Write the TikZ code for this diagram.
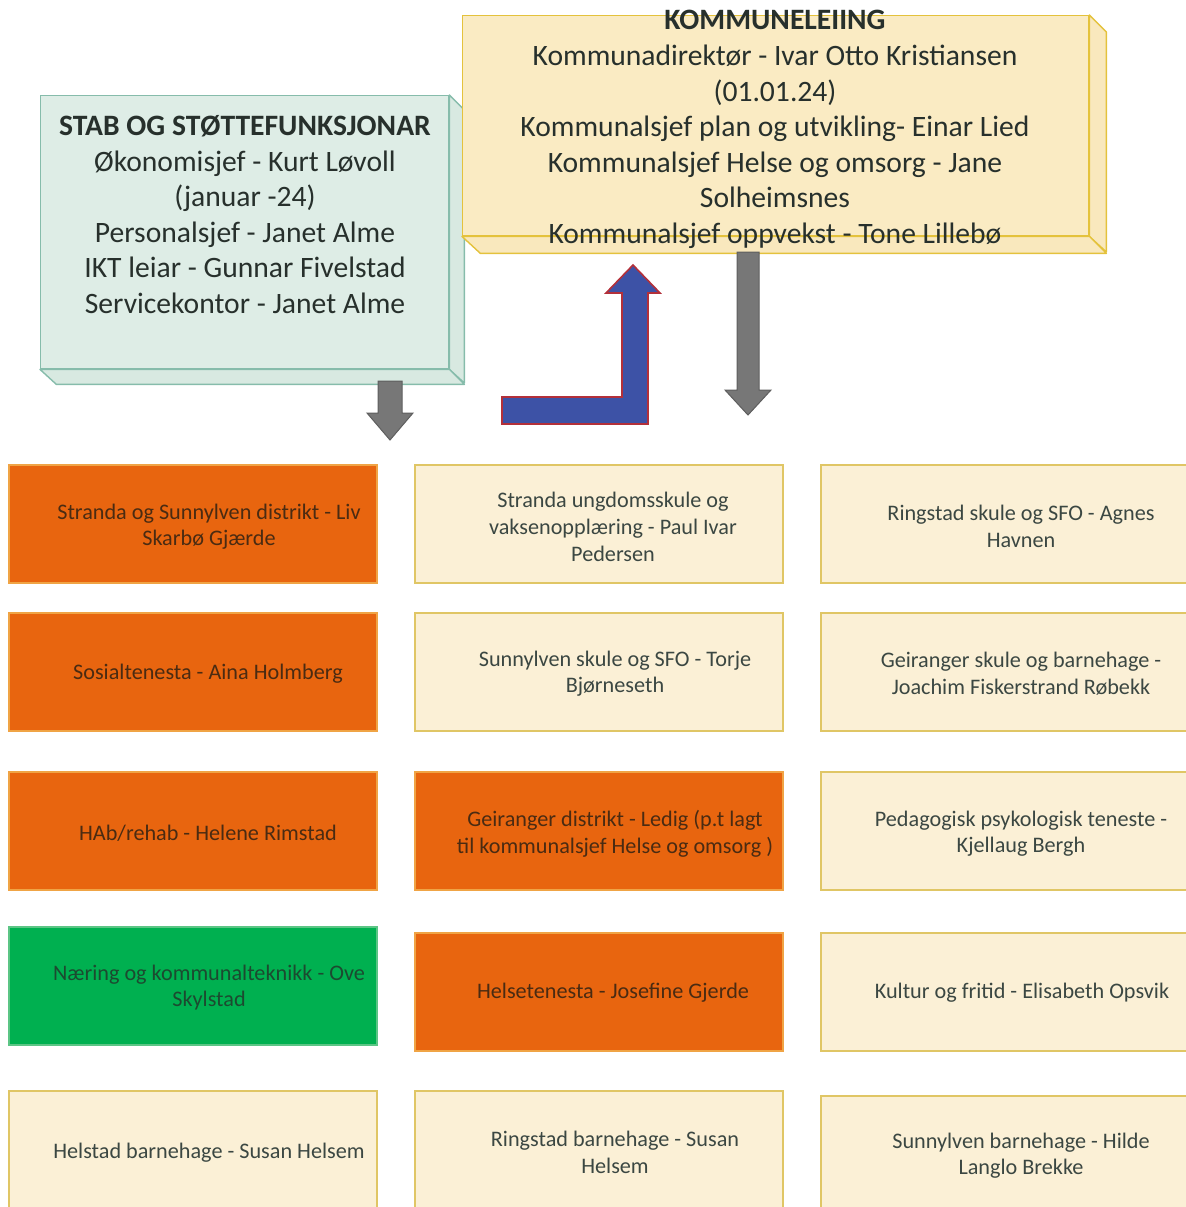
\documentclass[tikz,border=0pt]{standalone}
\usepackage{fontspec}
\setmainfont{Carlito}
\definecolor{txtdark}{HTML}{27302C}
\definecolor{txtcream}{HTML}{3B4742}
\definecolor{txtorange}{HTML}{4A2B12}
\definecolor{txtgreen}{HTML}{1C4A30}
\definecolor{creamfill}{HTML}{FBF0D6}
\definecolor{creamline}{HTML}{E0C665}
\definecolor{orangefill}{HTML}{E8650F}
\definecolor{orangeline}{HTML}{F0A445}
\definecolor{greenfill}{HTML}{00B050}
\definecolor{greenline}{HTML}{5CC585}
\definecolor{stabfill}{HTML}{DEEDE6}
\definecolor{stabside}{HTML}{D8E9E1}
\definecolor{stabline}{HTML}{86BCAB}
\definecolor{kommfill}{HTML}{FAEBC3}
\definecolor{kommside}{HTML}{F9E8BD}
\definecolor{kommline}{HTML}{E4C23C}
\definecolor{arrowgray}{HTML}{777777}
\definecolor{arrowgrayline}{HTML}{5E5E5E}
\definecolor{arrowblue}{HTML}{3D52A6}
\definecolor{arrowred}{HTML}{B3303A}
\begin{document}
\begin{tikzpicture}[x=0.5pt,y=-0.5pt,
  big/.style={font=\fontsize{14.8}{17.8}\selectfont, align=center, text=txtdark, inner sep=0pt, yshift=-1.3pt},
  small/.style={font=\fontsize{11.1}{13.4}\selectfont, align=center, inner sep=0pt, yshift=-1.3pt},
  gbox/.style={rectangle, line width=0.9pt, minimum width=184pt, minimum height=59pt, anchor=north west, inner sep=0pt},
  cream/.style={gbox, fill=creamfill, draw=creamline},
  orng/.style={gbox, fill=orangefill, draw=orangeline},
  grn/.style={gbox, fill=greenfill, draw=greenline},
  ctext/.style={small, text=txtcream},
  otext/.style={small, text=txtorange},
  gtext/.style={small, text=txtgreen},
  stabface/.style={rectangle, fill=stabfill, draw=stabline, line width=0.7pt, anchor=north west, inner sep=0pt},
  stabsideface/.style={fill=stabside, draw=stabline, line width=0.7pt, line join=round},
  kommface/.style={rectangle, fill=kommfill, draw=kommline, line width=0.7pt, anchor=north west, inner sep=0pt},
  kommsideface/.style={fill=kommside, draw=kommline, line width=0.7pt, line join=round},
  grayarrow/.style={fill=arrowgray, draw=arrowgrayline, line width=0.5pt},
  bluearrow/.style={fill=arrowblue, draw=arrowred, line width=0.8pt}
]
\useasboundingbox (0,0) rectangle (1186,1207);
\clip (0,0) rectangle (1186,1207);

% --- STAB box (3D) ---
\node[stabface, minimum width=204pt, minimum height=136.5pt] (stab) at (40,95) {};
\path[stabsideface] (stab.north east) -- ++(15,15) -- ++(0,273) -- (stab.south east) -- cycle;
\path[stabsideface] (stab.south west) -- (stab.south east) -- ++(15,15) -- ++(-408,0) -- cycle;
\node[big] (stabtxt) at (245,212) {\textbf{STAB OG STØTTEFUNKSJONAR}\\Økonomisjef - Kurt Løvoll\\(januar -24)\\Personalsjef - Janet Alme\\IKT leiar - Gunnar Fivelstad\\Servicekontor - Janet Alme};

% --- KOMMUNELEIING box (3D) ---
\node[kommface, minimum width=313pt, minimum height=110pt] (komm) at (462,15) {};
\path[kommsideface] (komm.north east) -- ++(17,17) -- ++(0,220) -- (komm.south east) -- cycle;
\path[kommsideface] (komm.south west) -- (komm.south east) -- ++(17,17) -- ++(-626,0) -- cycle;
\node[big] (kommtxt) at (775,127) {\textbf{KOMMUNELEIING}\\Kommunadirektør - Ivar Otto Kristiansen\\(01.01.24)\\Kommunalsjef plan og utvikling- Einar Lied\\Kommunalsjef Helse og omsorg - Jane\\Solheimsnes\\Kommunalsjef oppvekst - Tone Lillebø};

% --- block arrows ---
\path[grayarrow] (378,381) -- (402,381) -- (402,413) -- (413,413) -- (390,440) -- (367,413) -- (378,413) -- cycle;
\path[grayarrow] (737,252) -- (759,252) -- (759,390) -- (771,390) -- (748,415) -- (725,390) -- (737,390) -- cycle;
\path[bluearrow] (502,397) -- (622,397) -- (622,293) -- (606,293) -- (633,265) -- (660,293) -- (648,293) -- (648,424) -- (502,424) -- cycle;

% --- row 1 ---
\node[orng] (b11) at (8,464) {};
\node[otext] (t11) at (209,524) {Stranda og Sunnylven distrikt - Liv\\Skarbø Gjærde};
\node[cream] (b12) at (414,464) {};
\node[ctext] (t12) at (613,524) {Stranda ungdomsskule og\\vaksenopplæring - Paul Ivar\\Pedersen};
\node[cream, minimum width=190pt] (b13) at (820,464) {};
\node[ctext] (t13) at (1021,524) {Ringstad skule og SFO - Agnes\\Havnen};

% --- row 2 ---
\node[orng] (b21) at (8,612) {};
\node[otext] (t21) at (208,671) {Sosialtenesta - Aina Holmberg};
\node[cream] (b22) at (414,612) {};
\node[ctext] (t22) at (615,671) {Sunnylven skule og SFO - Torje\\Bjørneseth};
\node[cream, minimum width=190pt] (b23) at (820,612) {};
\node[ctext] (t23) at (1021,671) {Geiranger skule og barnehage -\\Joachim Fiskerstrand Røbekk};

% --- row 3 ---
\node[orng] (b31) at (8,771) {};
\node[otext] (t31) at (208,831) {HAb/rehab - Helene Rimstad};
\node[orng] (b32) at (414,771) {};
\node[otext] (t32) at (615,831) {Geiranger distrikt - Ledig (p.t lagt\\til kommunalsjef Helse og omsorg )};
\node[cream, minimum width=190pt] (b33) at (820,771) {};
\node[ctext] (t33) at (1021,831) {Pedagogisk psykologisk teneste -\\Kjellaug Bergh};

% --- row 4 ---
\node[grn] (b41) at (8,926) {};
\node[gtext] (t41) at (209,985) {Næring og kommunalteknikk - Ove\\Skylstad};
\node[orng] (b42) at (414,932) {};
\node[otext] (t42) at (613,990) {Helsetenesta - Josefine Gjerde};
\node[cream, minimum width=190pt] (b43) at (820,932) {};
\node[ctext] (t43) at (1022,990) {Kultur og fritid - Elisabeth Opsvik};

% --- row 5 ---
\node[cream, minimum height=64pt] (b51) at (8,1090) {};
\node[ctext] (t51) at (209,1150) {Helstad barnehage - Susan Helsem};
\node[cream, minimum height=64pt] (b52) at (414,1090) {};
\node[ctext] (t52) at (615,1150) {Ringstad barnehage - Susan\\Helsem};
\node[cream, minimum width=190pt, minimum height=64pt] (b53) at (820,1095) {};
\node[ctext] (t53) at (1021,1153) {Sunnylven barnehage - Hilde\\Langlo Brekke};
\end{tikzpicture}
\end{document}
